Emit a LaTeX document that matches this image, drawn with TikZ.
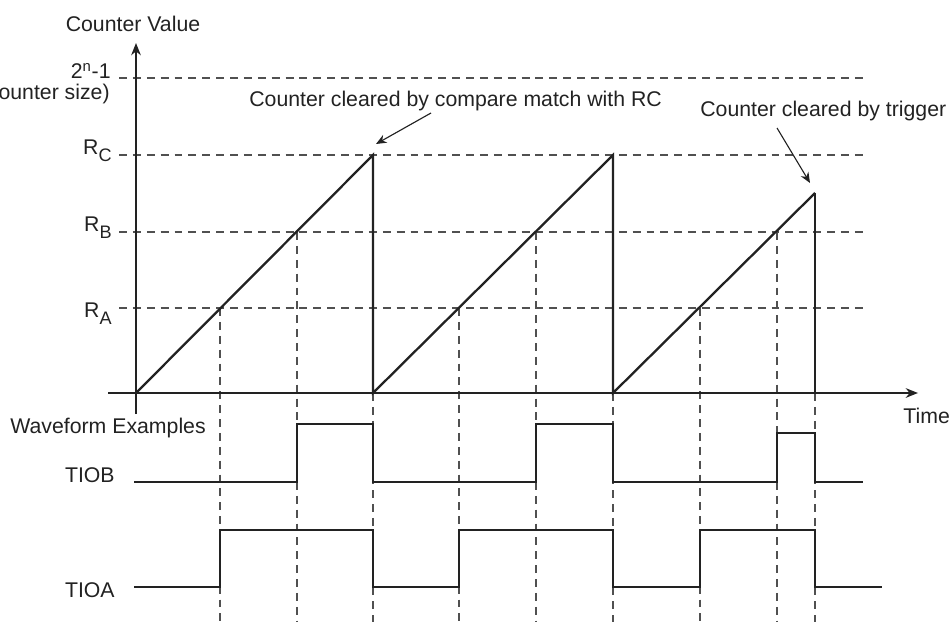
\documentclass[tikz,border=0pt]{standalone}
\usepackage{fontspec}
\setmainfont{Liberation Sans}
\usepackage{xcolor}
\usetikzlibrary{arrows.meta}

\definecolor{ink}{HTML}{222222}
\definecolor{guidegray}{HTML}{505050}
\newcommand{\rsub}[1]{R\raisebox{-0.32em}{\fontsize{10.3}{11}\selectfont #1}}

\begin{document}
\begin{tikzpicture}[
  x=0.2mm, y=-0.2mm,
  every node/.style={font=\fontsize{12.1}{14}\selectfont, text=ink, inner sep=0pt},
  lbl/.style={anchor=base east},
  txt/.style={anchor=base west},
  axis/.style={draw=ink, line width=0.75pt},
  guide/.style={draw=guidegray, line width=0.65pt, dash pattern=on 4.5pt off 3.4pt},
  ramp/.style={draw=ink, line width=1.3pt},
  wave/.style={draw=ink, line width=1.4pt},
  arr/.style={draw=ink, line width=0.65pt, -{Stealth[length=6pt, width=5pt]}}
]
\useasboundingbox (0,0) rectangle (950,622);
% ── guide lines ─────────────────────────────────
\foreach \y in {78,155,232,308}
  \draw[guide] (119,\y) -- (863,\y);
\foreach \x/\y in {220/308, 297/232, 459/308, 536/232, 700/308, 777/232,
                   373/393, 613/393, 815/393}
  \draw[guide] (\x,\y) -- (\x,622);
% ── counter ramps ───────────────────────────────
\coordinate (o) at (136,393);
\coordinate (pk1) at (373,155);
\coordinate (z1) at (373,393);
\coordinate (pk2) at (613,155);
\coordinate (z2) at (613,393);
\coordinate (pk3) at (815,193);
\coordinate (z3) at (815,393);
\draw[ramp] (o) -- (pk1) -- (z1) -- (pk2) -- (z2) -- (pk3);
\draw[axis] (pk3) -- (z3);
% ── axes ────────────────────────────────────────
\coordinate (xs) at (108,393);
\coordinate (xe) at (918,393);
\coordinate (ys) at (136,414);
\coordinate (ye) at (136,43);
\draw[axis, -{Stealth[length=7pt, width=5.5pt]}] (xs) -- (xe);
\draw[axis, -{Stealth[length=7pt, width=5.5pt]}] (ys) -- (ye);
% ── labels ──────────────────────────────────────
\node[anchor=base] (cv) at (133,32) {Counter Value};
\node[lbl] (max) at (111,79) {2\textsuperscript{n}-1};
\node[lbl] (size) at (110,100) {(counter size)};
\node[lbl] (rc) at (112,155) {\rsub{C}};
\node[lbl] (rb) at (112,232) {\rsub{B}};
\node[lbl] (ra) at (112,318) {\rsub{A}};
\node[txt] (time) at (903,423) {Time};
\node[txt] (wf) at (10,433) {Waveform Examples};
\node[lbl] (tb) at (115,482) {TIOB};
\node[lbl] (ta) at (115,597) {TIOA};
% ── annotations ─────────────────────────────────
\node[txt] (cmp) at (249,107) {Counter cleared by compare match with RC};
\node[txt] (trg) at (700,117) {Counter cleared by trigger};
\coordinate (cmptail) at (431,113);
\coordinate (cmptip) at (376,144);
\coordinate (trgtail) at (777,128);
\coordinate (trgtip) at (810,183);
\draw[arr] (cmptail) -- (cmptip);
\draw[arr] (trgtail) -- (trgtip);
% ── output waveforms ────────────────────────────
\draw[wave] (134,482) -| (297,424) -| (373,482) -| (536,424) -| (613,482)
  -| (777,433) -| (815,482) -- (863,482);
\draw[wave] (134,587) -| (220,530) -| (373,587) -| (459,530) -| (613,587)
  -| (700,530) -| (815,587) -- (882,587);
\end{tikzpicture}
\end{document}
